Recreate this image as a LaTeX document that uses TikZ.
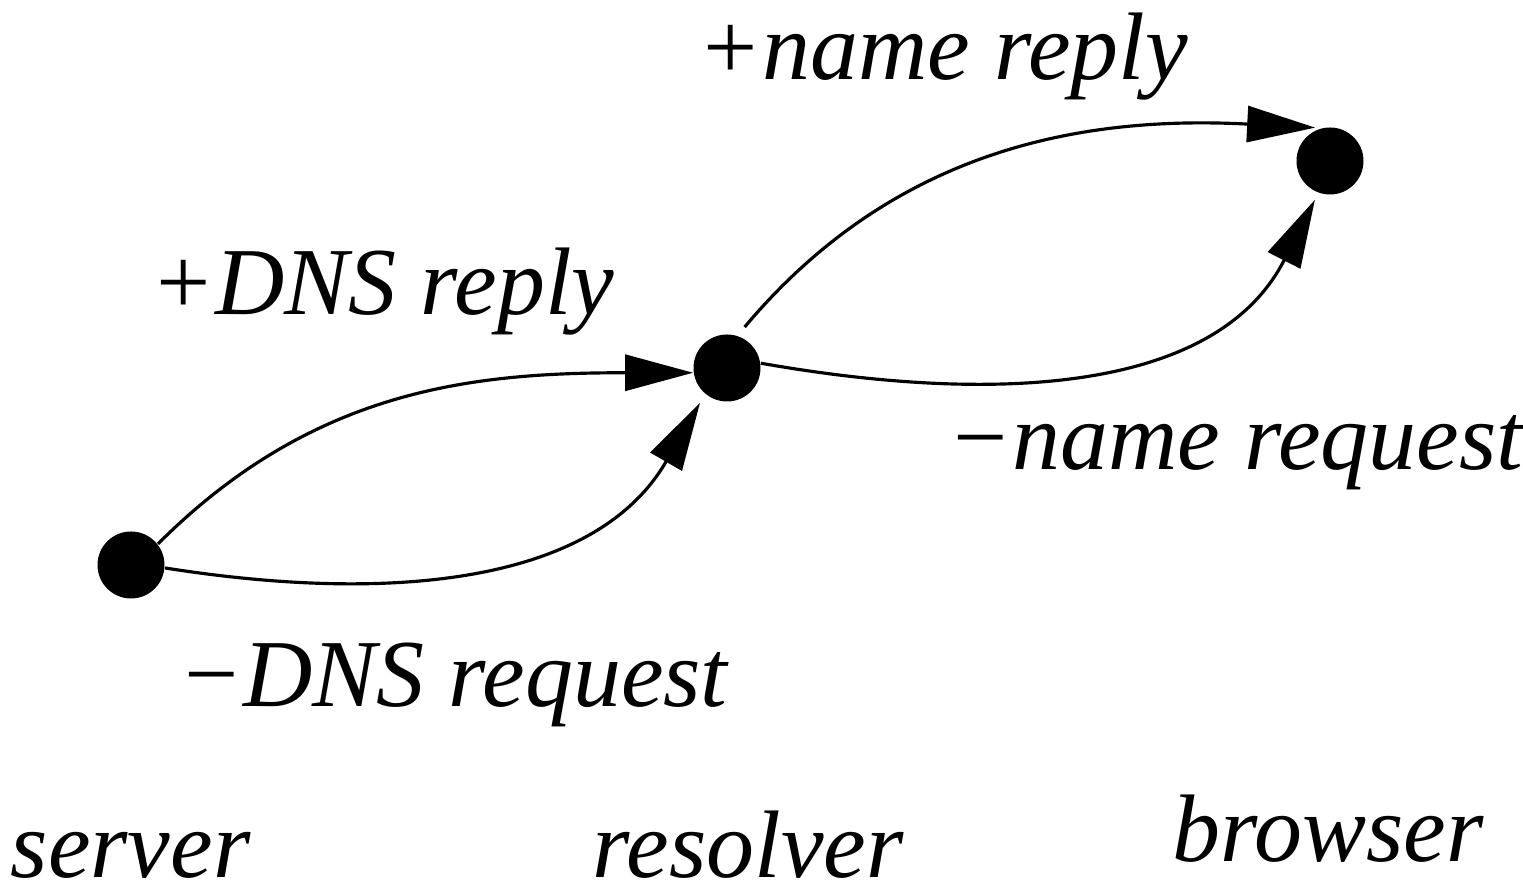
\documentclass[tikz,border=0pt]{standalone}
\usepackage{fontspec}
\setmainfont{Liberation Serif}
\usetikzlibrary{arrows.meta}
\tikzset{
  dot/.style={circle,fill,inner sep=0,minimum size=0.67cm},
  lbl/.style={font=\fontsize{27.3}{32}\selectfont\itshape,inner sep=0,anchor=base west},
  msg/.style={line width=0.9pt,-{Triangle[length=0.68cm,width=0.36cm]}}
}
\begin{document}
\begin{tikzpicture}
  \clip (0,0) rectangle (15.23,8.81);
  \useasboundingbox (0,0) rectangle (15.23,8.81);
  % the three parties
  \node[dot] (server) at (1.31,3.16) {};
  \node[dot] (resolver) at (7.27,5.13) {};
  \node[dot] (browser) at (13.30,7.20) {};
  \node[lbl] (serverlbl) at (0.10,0.03) {server};
  \node[lbl] (resolverlbl) at (5.92,0.03) {resolver};
  \node[lbl] (browserlbl) at (11.72,0.19) {browser};
  % messages
  \draw[msg] (server.38) to[out=45,in=180] (resolver.188);
  \draw[msg,shorten >=0.1cm] (server.-5) to[out=-9,in=240] (resolver.230);
  \draw[msg,shorten <=0.11cm,shorten >=0.06cm] (resolver.72) to[out=50,in=177] (browser.105);
  \draw[msg,shorten >=0.075cm] (resolver.8) to[out=-10,in=243] (browser.250);
  \node[lbl] (dnsreply) at (1.50,5.66) {+DNS reply};
  \node[lbl] (dnsreq) at (1.78,1.74) {−DNS request};
  \node[lbl] (namereply) at (6.97,8.01) {+name reply};
  \node[lbl] (namereq) at (9.47,4.11) {−name request};
\end{tikzpicture}
\end{document}
